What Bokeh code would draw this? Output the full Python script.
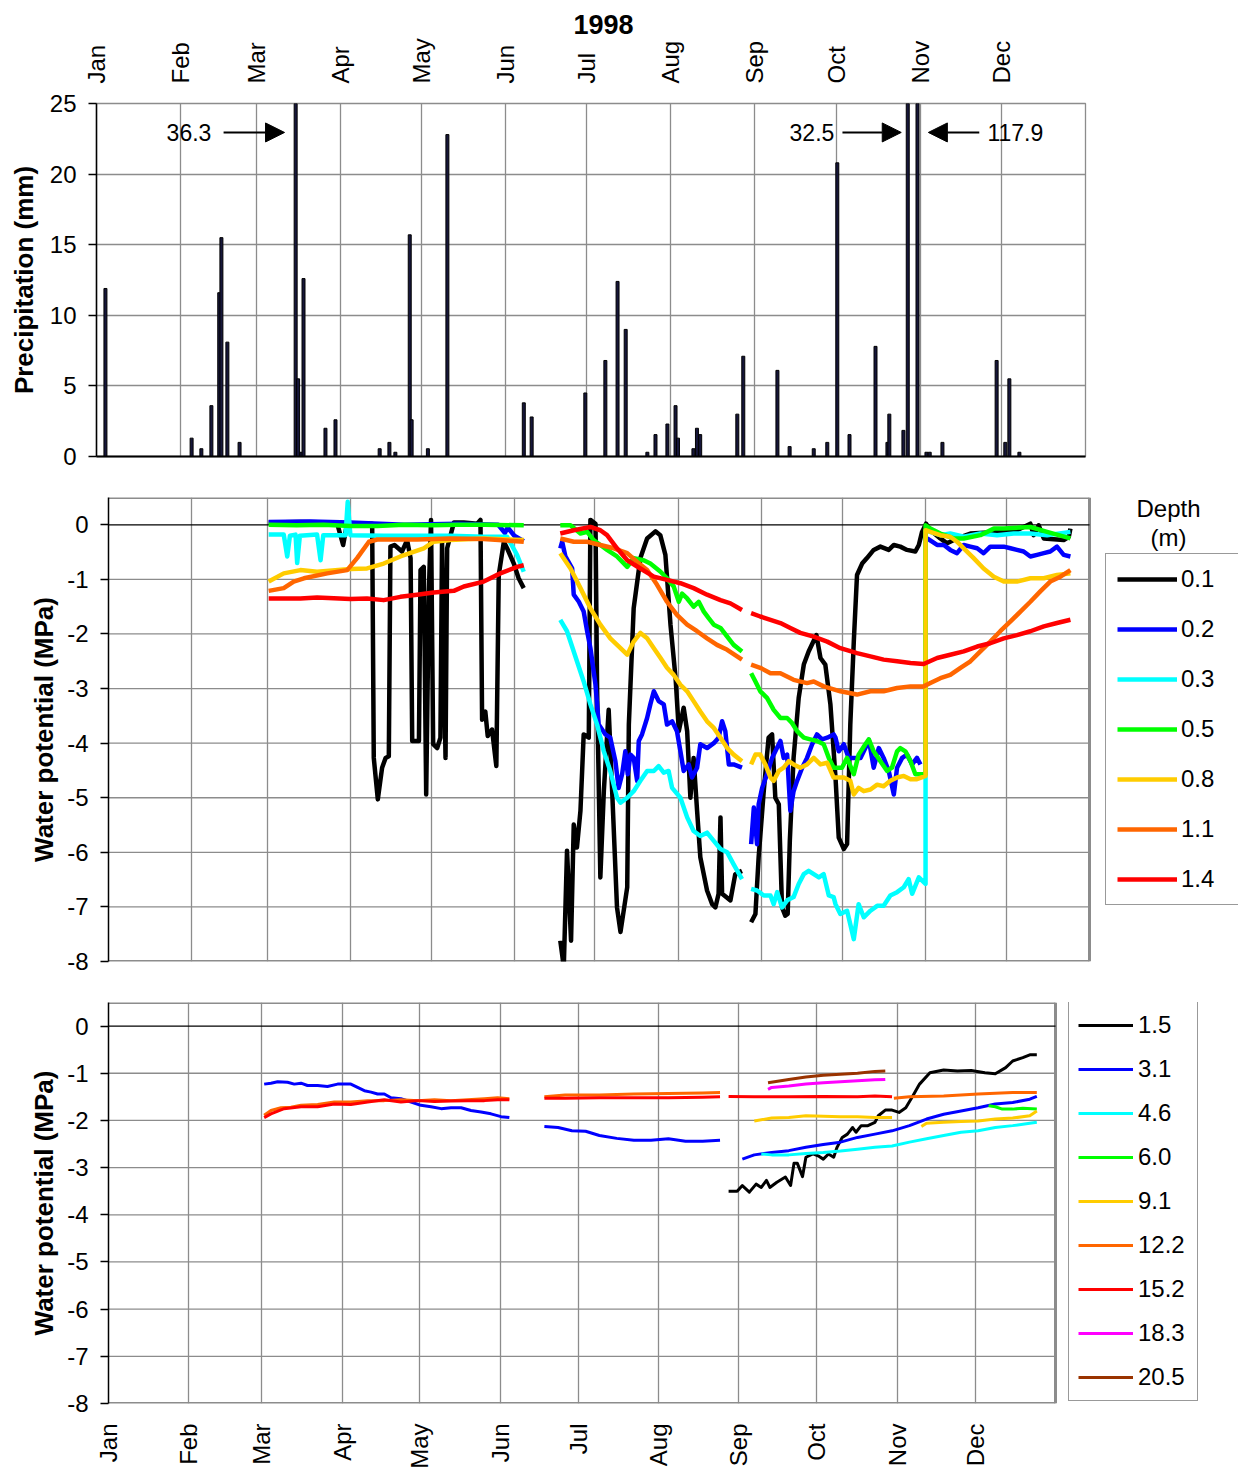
import numpy as np
from bokeh.plotting import figure
from bokeh.layouts import column, row
from bokeh.models import (Range1d, FixedTicker, LinearAxis, Label, Arrow,
                          NormalHead, ColumnDataSource, Legend, LegendItem)
from bokeh.embed import file_html
from bokeh.resources import INLINE

FONT = "Liberation Sans"

# ---------------- axis categories ----------------
month_starts = [0, 31, 59, 90, 120, 151, 181, 212, 243, 273, 304, 334]
month_labels = ["Jan", "Feb", "Mar", "Apr", "May", "Jun",
                "Jul", "Aug", "Sep", "Oct", "Nov", "Dec"]
precip_ticks = [0, 5, 10, 15, 20, 25]
wp_ticks = [0, -1, -2, -3, -4, -5, -6, -7, -8]
YEAR_DAYS = 365

# ---------------- precipitation (day of year, mm) ----------------
precip_day = [3.3, 35.1, 38.7, 42.4, 45.3, 46.1, 48.3, 52.8, 73.5, 74.4, 75.6, 76.4,
              84.5, 88.2, 104.5, 108.1, 110.3, 115.6, 116.3, 122.3, 129.5, 157.7,
              160.6, 180.4, 187.8, 192.3, 195.3, 203.3, 206.3, 210.7, 213.7, 214.6,
              220.3, 221.6, 222.8, 236.5, 238.7, 251.3, 255.8, 264.7, 269.7, 273.4,
              277.9, 287.5, 291.9, 292.6, 297.8, 299.4, 303.0, 306.3, 307.5, 312.2,
              332.2, 335.4, 336.9, 340.6]
precip_mm = [11.9, 1.3, 0.55, 3.6, 11.6, 15.5, 8.1, 1.0, 36.3, 5.5, 0.3, 12.6,
             2.0, 2.6, 0.55, 1.0, 0.3, 15.7, 2.6, 0.55, 22.8, 3.8,
             2.8, 4.5, 6.8, 12.4, 9.0, 0.3, 1.55, 2.3, 3.6, 1.3,
             0.55, 2.0, 1.55, 3.0, 7.1, 6.1, 0.7, 0.55, 1.0, 20.8,
             1.55, 7.8, 1.0, 3.0, 1.85, 32.5, 117.9, 0.3, 0.3, 1.0,
             6.8, 1.0, 5.5, 0.3]

# ---------------- shallow water potential (MPa); None = gap ----------------
wp01_day = [59.6, 71.4, 85.0, 87.3, 88.8, 98.1, 98.7, 100.2, 101.8, 103.1, 104.3, 104.9, 106.4,
            109.2, 111.1, 112.4, 113.0, 114.8, 115.5, 116.1, 117.3, 118.2, 119.2, 120.0, 120.8,
            122.3, 123.5, 124.1, 125.4, 126.0, 128.5, 132.2, 137.2, 138.4, 139.0, 140.2, 141.1,
            142.7, 144.3, 145.2, 147.1, 148.3, 150.8, 152.6, 154.5, None,
            168.1, 169.4, 170.6, 172.1, 173.1, 174.3, 175.6, 176.8, 178.7, 179.3, 181.2, 181.8,
            183.0, 184.3, 186.1, 187.4, 189.2, 190.5, 193.0, 193.6, 195.4, 197.9, 200.4, 203.5,
            205.3, 207.2, 209.1, 211.0, 212.2, 214.0, 215.3, 216.5, 217.7, 219.0, 220.2, 222.7,
            224.6, 225.8, 227.0, 227.7, 228.3, 231.4, 233.2, 235.7, None,
            239.1, 240.7, 241.9, 243.8, 245.6, 246.9, 248.1, 249.4, 250.6, 251.8, 252.7, 253.5,
            254.9, 256.8, 258.7, 260.5, 263.4, 264.9, 266.7, 268.6, 270.5, 271.7, 273.6, 274.8,
            276.0, 277.3, 278.5, 280.4, 282.2, 284.7, 287.2, 290.3, 292.2, 294.6, 297.1, 300.2,
            301.5, 302.7, 304.2, 305.8, 309.5, 312.0, 315.7, 320.7, 330.6, 338.0, 343.0, 344.2,
            346.1, 348.0, 355.4, 357.3, 357.9]
wp01_val = [0.04, 0.05, 0.04, -0.37, 0.03, 0.02, -4.27, -5.03, -4.45, -4.27, -4.24, -0.40, -0.37,
            -0.49, -0.28, -0.61, -3.96, -3.96, -3.96, -0.83, -0.77, -4.94, -1.22, 0.09, -4.02,
            -4.09, -3.90, -0.31, -4.27, -0.43, 0.04, 0.04, 0.02, 0.09, -3.57, -3.42, -3.87,
            -3.75, -4.42, -0.92, -0.31, -0.43, -0.71, -0.98, -1.16, None,
            -7.62, -8.1, -5.97, -7.62, -5.49, -5.91, -5.24, -3.84, -3.90, 0.09, 0.02, -3.05,
            -6.46, -4.88, -3.39, -4.88, -7.01, -7.46, -6.64, -3.66, -1.53, -0.61, -0.25, -0.12,
            -0.19, -0.55, -1.83, -2.81, -3.78, -3.35, -3.78, -5.00, -4.27, -5.24, -6.09, -6.70,
            -6.95, -7.01, -6.76, -5.36, -6.76, -6.88, -6.40, -6.34, None,
            -7.28, -7.13, -6.09, -4.88, -3.90, -3.84, -5.00, -5.12, -7.01, -7.16, -7.13, -5.79,
            -4.27, -3.17, -2.56, -2.32, -2.02, -2.44, -2.56, -3.29, -4.63, -5.73, -5.94, -5.85,
            -3.66, -2.14, -0.92, -0.71, -0.61, -0.46, -0.40, -0.46, -0.37, -0.40, -0.46, -0.49,
            -0.37, -0.13, 0.02, -0.10, -0.25, -0.34, -0.25, -0.16, -0.13, -0.10, 0.02, -0.19,
            -0.01, -0.25, -0.28, -0.22, -0.07]

wp02_day = [59.6, 75.0, 90.0, 110.0, 130.0, 145.0, 147.5, 148.5, 151.0, 154.5, None,
            168.1, 168.8, 170.0, 172.5, 173.1, 175.0, 176.8, 178.1, 179.3, 181.2, 182.4, 184.9,
            186.7, 188.6, 189.8, 191.1, 192.3, 193.2, 194.2, 195.4, 196.7, 197.3, 198.5, 200.4,
            201.6, 202.9, 204.7, 206.6, 207.8, 209.7, 211.5, 212.8, 214.0, 215.9, 217.1, 219.0,
            220.2, 222.7, 225.2, 227.0, 228.3, 229.5, 230.8, 232.6, 235.7, None,
            239.1, 240.1, 241.3, 241.9, 243.2, 245.0, 246.9, 248.7, 250.0, 251.2, 252.5, 253.7,
            254.9, 256.2, 258.1, 259.9, 261.8, 263.6, 265.5, 267.4, 269.8, 270.5, 271.7, 273.6,
            275.4, 279.8, 281.6, 282.9, 284.7, 286.6, 288.4, 290.3, 292.2, 293.4, 295.3, 297.1,
            299.0, 300.8, 302.1, None, 304.6, 308.3, 310.8, 313.2, 315.7, 318.2, 320.7, 323.2,
            325.6, 328.1, 333.1, 335.6, 338.0, 340.5, 343.0, 345.5, 348.0, 350.4, 352.9, 355.4,
            357.9]
wp02_val = [0.05, 0.06, 0.04, 0.0, 0.02, 0.0, -0.15, -0.05, -0.2, -0.3, None,
            -0.43, -0.31, -0.58, -0.80, -1.28, -1.41, -1.59, -1.95, -2.26, -2.93, -3.66, -3.84,
            -3.90, -4.33, -4.82, -4.57, -4.15, -4.57, -4.21, -4.27, -4.69, -3.96, -3.84, -3.54,
            -3.29, -3.05, -3.23, -3.29, -3.66, -3.60, -3.78, -4.15, -4.51, -4.39, -4.63, -4.45,
            -4.02, -4.09, -4.00, -3.90, -3.60, -3.78, -4.39, -4.39, -4.45, None,
            -5.85, -5.18, -5.85, -5.12, -4.82, -4.57, -4.27, -4.09, -3.96, -4.27, -4.21, -5.24,
            -4.88, -4.69, -4.45, -4.27, -4.02, -3.84, -3.93, -3.90, -3.84, -3.90, -4.15, -4.02,
            -4.27, -4.27, -4.09, -3.94, -4.45, -4.09, -4.27, -4.51, -4.94, -4.45, -4.27, -4.21,
            -4.39, -4.27, -4.39, None, -0.25, -0.37, -0.37, -0.46, -0.52, -0.37, -0.40, -0.43,
            -0.52, -0.40, -0.40, -0.43, -0.46, -0.49, -0.58, -0.55, -0.52, -0.49, -0.40, -0.55,
            -0.58]

wp03_day = [59.6, 65.2, 66.5, 67.5, 69.6, 70.2, 71.2, 77.6, 78.9, 79.9, 88.2, 89.0, 90.0,
            102.4, 114.8, 127.2, 139.6, 148.3, 152.0, 154.5, None,
            168.1, 170.6, 173.1, 176.8, 179.3, 181.8, 184.3, 186.7, 189.2, 190.5, 193.0, 195.4,
            197.9, 200.4, 202.9, 204.7, 206.6, 208.4, 209.7, 212.8, 215.3, 217.7, 220.2, 222.7,
            225.2, 227.7, 230.2, 232.6, 235.7, None,
            239.1, 241.3, 243.8, 246.3, 247.5, 248.8, 250.6, 252.5, 254.9, 256.8, 258.7, 260.5,
            262.4, 264.3, 266.1, 268.0, 269.8, 270.5, 272.3, 274.8, 277.3, 279.1, 281.0, 283.5,
            286.0, 288.4, 290.9, 293.4, 295.9, 297.7, 299.0, 301.5, 304.0, 304.0, 309.5, 313.2,
            318.2, 324.4, 330.6, 336.8, 343.0, 349.2, 357.9]
wp03_val = [-0.18, -0.18, -0.58, -0.20, -0.18, -0.70, -0.20, -0.18, -0.65, -0.19, -0.19, 0.42,
            -0.19, -0.20, -0.20, -0.20, -0.22, -0.22, -0.55, -0.86, None,
            -1.74, -1.95, -2.32, -2.87, -3.29, -3.66, -4.15, -4.51, -5.00, -5.09, -5.00, -4.88,
            -4.69, -4.51, -4.51, -4.42, -4.54, -4.51, -4.82, -5.00, -5.36, -5.61, -5.70, -5.64,
            -5.79, -5.94, -6.00, -6.22, -6.49, None,
            -6.67, -6.70, -6.79, -6.79, -6.95, -6.73, -7.01, -6.88, -6.82, -6.58, -6.40, -6.34,
            -6.40, -6.46, -6.40, -6.79, -6.82, -6.95, -7.13, -7.07, -7.59, -6.95, -7.19, -7.07,
            -6.98, -6.98, -6.79, -6.73, -6.64, -6.49, -6.76, -6.46, -6.58, -0.10, -0.19, -0.16,
            -0.22, -0.16, -0.19, -0.16, -0.16, -0.19, -0.13]

wp05_day = [59.6, 70.0, 80.0, 90.0, 100.0, 110.0, 120.0, 130.0, 140.0, 154.5, None,
            168.1, 171.9, 175.6, 178.1, 180.5, 183.0, 185.5, 189.2, 193.0, 195.4, 199.1, 201.6,
            205.4, 207.8, 210.3, 212.2, 213.4, 215.3, 217.7, 219.6, 221.5, 223.3, 225.2, 227.7,
            230.2, 232.6, 235.7, None,
            239.1, 240.7, 242.5, 245.0, 247.5, 250.0, 252.5, 254.3, 256.2, 258.7, 261.1, 263.6,
            266.1, 268.0, 269.8, 271.1, 272.9, 274.8, 277.3, 279.1, 281.6, 282.9, 284.7, 287.2,
            289.7, 291.5, 293.4, 294.6, 296.5, 298.4, 300.2, 304.0, 304.0, 305.8, 309.5, 314.5,
            318.2, 324.4, 329.4, 333.1, 343.0, 349.2, 357.9]
wp05_val = [0.0, -0.01, 0.0, -0.02, -0.02, 0.0, -0.01, 0.0, 0.0, -0.01, None,
            -0.01, -0.01, -0.16, -0.13, -0.28, -0.37, -0.46, -0.58, -0.77, -0.61, -0.65, -0.71,
            -0.86, -0.98, -1.13, -1.41, -1.26, -1.35, -1.50, -1.41, -1.59, -1.71, -1.83, -1.89,
            -2.05, -2.20, -2.32, None,
            -2.72, -2.87, -3.05, -3.17, -3.39, -3.54, -3.54, -3.63, -3.78, -3.90, -3.93, -3.96,
            -4.02, -4.27, -4.45, -4.45, -4.45, -4.27, -4.57, -4.21, -4.02, -3.93, -4.15, -4.33,
            -4.51, -4.45, -4.15, -4.09, -4.15, -4.33, -4.57, -4.57, -0.01, -0.07, -0.16, -0.25,
            -0.25, -0.19, -0.07, -0.07, -0.04, -0.13, -0.25]

wp08_day = [59.6, 65.2, 71.4, 77.6, 90.0, 96.2, 102.4, 108.6, 117.3, 121.0, 127.2, 139.6,
            154.5, None,
            168.1, 171.9, 175.6, 179.3, 183.0, 186.7, 190.5, 193.0, 195.4, 197.9, 200.4, 202.9,
            205.4, 207.8, 210.3, 212.8, 215.3, 217.7, 220.2, 222.7, 225.2, 227.7, 230.2, 232.6,
            235.7, None,
            239.1, 240.7, 242.5, 244.4, 246.3, 247.5, 249.4, 251.2, 253.1, 254.9, 257.4, 259.9,
            262.4, 264.9, 267.4, 269.8, 271.1, 273.6, 276.0, 277.3, 279.1, 281.0, 283.5, 286.0,
            288.4, 290.9, 293.4, 295.9, 298.4, 300.8, 304.0, 304.0, 305.8, 309.5, 313.2, 315.7,
            318.2, 321.9, 325.6, 329.4, 333.1, 338.0, 343.0, 348.0, 352.9, 357.9]
wp08_val = [-1.04, -0.89, -0.83, -0.86, -0.81, -0.80, -0.71, -0.58, -0.43, -0.31, -0.28, -0.25,
            -0.28, None,
            -0.52, -0.80, -1.16, -1.53, -1.83, -2.08, -2.26, -2.38, -2.14, -1.98, -2.08, -2.26,
            -2.44, -2.62, -2.75, -2.93, -3.05, -3.23, -3.42, -3.60, -3.72, -3.90, -4.09, -4.21,
            -4.33, None,
            -4.39, -4.21, -4.21, -4.39, -4.63, -4.69, -4.51, -4.45, -4.33, -4.39, -4.45, -4.39,
            -4.27, -4.39, -4.36, -4.63, -4.63, -4.63, -4.69, -4.94, -4.82, -4.88, -4.85, -4.76,
            -4.79, -4.69, -4.63, -4.60, -4.66, -4.66, -4.60, -0.10, -0.13, -0.19, -0.22, -0.31,
            -0.43, -0.61, -0.80, -0.95, -1.04, -1.04, -0.98, -0.98, -0.92, -0.89]

wp11_day = [59.6, 65.2, 68.9, 72.7, 81.4, 88.8, 92.5, 96.9, 100.0, 114.8, 127.2, 139.6, 154.5,
            None,
            168.1, 173.1, 178.1, 183.0, 188.0, 193.0, 196.7, 200.4, 204.1, 207.8, 211.5, 215.3,
            219.0, 222.7, 226.4, 230.2, 235.7, None,
            239.1, 242.5, 246.3, 250.0, 254.9, 259.9, 262.4, 266.1, 272.3, 278.5, 283.5, 288.4,
            293.4, 298.4, 303.3, 305.8, 309.5, 313.2, 317.0, 320.7, 324.4, 328.1, 331.8, 335.6,
            339.3, 343.0, 346.7, 350.4, 354.2, 357.9]
wp11_val = [-1.21, -1.16, -1.04, -0.98, -0.89, -0.83, -0.61, -0.31, -0.27, -0.27, -0.25, -0.26,
            -0.31, None,
            -0.25, -0.31, -0.31, -0.37, -0.43, -0.52, -0.68, -0.83, -1.10, -1.41, -1.65, -1.83,
            -1.95, -2.08, -2.20, -2.29, -2.47, None,
            -2.56, -2.62, -2.72, -2.72, -2.84, -2.90, -2.87, -2.96, -3.05, -3.11, -3.05, -3.05,
            -2.99, -2.96, -2.96, -2.90, -2.81, -2.75, -2.62, -2.50, -2.32, -2.14, -1.95, -1.77,
            -1.59, -1.41, -1.22, -1.04, -0.95, -0.83]

wp14_day = [59.6, 71.4, 77.6, 90.0, 96.2, 102.4, 108.6, 114.8, 121.0, 128.5, 132.2, 139.6,
            145.8, 152.0, 154.5, None,
            168.1, 173.1, 179.3, 183.0, 185.5, 189.2, 193.0, 197.9, 202.9, 207.8, 212.8, 217.7,
            222.7, 227.7, 231.4, 235.7, None,
            239.1, 242.5, 246.3, 250.0, 253.7, 257.4, 262.4, 267.4, 272.3, 278.5, 283.5, 288.4,
            293.4, 298.4, 303.3, 308.3, 313.2, 318.2, 323.2, 328.1, 333.1, 338.0, 343.0, 348.0,
            352.9, 357.9]
wp14_val = [-1.35, -1.35, -1.33, -1.36, -1.35, -1.38, -1.32, -1.28, -1.24, -1.21, -1.13, -1.04,
            -0.89, -0.77, -0.74, None,
            -0.16, -0.10, -0.04, -0.10, -0.19, -0.43, -0.65, -0.80, -0.95, -1.01, -1.07, -1.16,
            -1.28, -1.38, -1.44, -1.56, None,
            -1.62, -1.68, -1.74, -1.80, -1.89, -1.98, -2.05, -2.14, -2.26, -2.35, -2.41, -2.47,
            -2.50, -2.53, -2.55, -2.44, -2.38, -2.32, -2.23, -2.17, -2.08, -2.02, -1.95, -1.86,
            -1.80, -1.74]

# ---------------- deep water potential (MPa); None = gap ----------------
d15_day = [239.0, 242.3, 244.3, 247.0, 249.6, 251.6, 253.6, 254.9, 257.6, 260.9, 262.9, 264.2,
           265.5, 267.5, 268.8, 271.5, 273.5, 275.5, 277.5, 279.5, 280.8, 282.8, 284.8, 286.8,
           288.1, 290.1, 292.7, 295.4, 296.7, 299.4, 302.0, 304.7, 307.3, 310.0, 312.6, 316.6,
           321.9, 327.2, 332.5, 337.8, 341.8, 345.8, 348.5, 352.4, 355.1, 357.8]
d15_val = [-3.50, -3.50, -3.38, -3.52, -3.35, -3.42, -3.27, -3.42, -3.31, -3.20, -3.38, -2.91,
           -2.91, -3.19, -2.78, -2.71, -2.75, -2.82, -2.71, -2.78, -2.57, -2.36, -2.29, -2.15,
           -2.25, -2.11, -2.11, -2.04, -1.90, -1.78, -1.78, -1.83, -1.73, -1.48, -1.23, -0.99,
           -0.93, -0.95, -0.94, -0.99, -1.01, -0.88, -0.74, -0.67, -0.61, -0.61]

d31_day = [60.0, 62.6, 65.2, 69.0, 71.6, 74.2, 76.7, 80.6, 84.4, 88.3, 93.4, 96.0, 98.6,
           101.2, 103.7, 106.3, 108.9, 112.7, 116.6, 120.4, 124.3, 128.2, 132.0, 135.9, 139.7,
           143.6, 147.4, 151.3, 154.5, None,
           168.0, 173.3, 178.6, 183.9, 189.2, 195.9, 202.5, 209.1, 215.8, 222.4, 229.0, 235.7,
           None,
           244.3, 248.9, 255.6, 262.2, 268.8, 275.5, 282.1, 288.7, 295.4, 302.0, 308.7, 315.3,
           321.9, 328.6, 335.2, 341.8, 348.5, 355.1, 357.8]
d31_val = [-1.23, -1.21, -1.18, -1.19, -1.23, -1.21, -1.26, -1.26, -1.28, -1.23, -1.23, -1.30,
           -1.37, -1.40, -1.44, -1.44, -1.52, -1.54, -1.61, -1.68, -1.71, -1.75, -1.73, -1.73,
           -1.79, -1.82, -1.86, -1.92, -1.94, None,
           -2.13, -2.15, -2.22, -2.23, -2.32, -2.38, -2.42, -2.42, -2.39, -2.44, -2.44, -2.42,
           None,
           -2.82, -2.73, -2.68, -2.64, -2.57, -2.51, -2.46, -2.36, -2.29, -2.22, -2.11, -1.97,
           -1.87, -1.80, -1.73, -1.65, -1.62, -1.55, -1.49]

d46_day = [251.6, 255.6, 262.2, 268.8, 275.5, 282.1, 288.7, 295.4, 302.0, 308.7, 315.3, 321.9,
           328.6, 335.2, 341.8, 348.5, 355.1, 357.8]
d46_val = [-2.71, -2.73, -2.73, -2.70, -2.68, -2.65, -2.61, -2.57, -2.54, -2.46, -2.39, -2.32,
           -2.25, -2.22, -2.15, -2.11, -2.06, -2.04]

d60_day = [339.2, 341.8, 344.5, 348.5, 352.4, 357.8]
d60_val = [-1.69, -1.71, -1.76, -1.76, -1.74, -1.76]

d91_day = [248.9, 255.6, 262.2, 268.8, 275.5, 282.1, 288.7, 295.4, 302.0, None,
           313.3, 315.3, 321.9, 328.6, 335.2, 341.8, 348.5, 355.1, 357.8]
d91_val = [-2.01, -1.95, -1.94, -1.90, -1.91, -1.92, -1.92, -1.94, -1.94, None,
           -2.13, -2.06, -2.04, -2.02, -2.01, -1.97, -1.95, -1.90, -1.80]

d122_day = [60.0, 62.6, 66.5, 70.3, 74.2, 80.6, 87.0, 93.4, 99.9, 106.3, 112.7, 119.2, 125.6,
            132.0, 138.4, 144.9, 150.0, 154.5, None,
            168.0, 176.0, 189.2, 202.5, 215.8, 229.0, 235.7, None,
            302.7, 308.7, 321.9, 335.2, 348.5, 357.8]
d122_val = [-1.89, -1.79, -1.73, -1.72, -1.68, -1.66, -1.61, -1.61, -1.58, -1.58, -1.56, -1.58,
            -1.56, -1.58, -1.56, -1.54, -1.52, -1.54, None,
            -1.50, -1.46, -1.46, -1.44, -1.43, -1.42, -1.41, None,
            -1.53, -1.50, -1.48, -1.44, -1.41, -1.41]

d152_day = [60.0, 62.6, 67.7, 74.2, 80.6, 87.0, 93.4, 99.9, 106.3, 112.7, 119.2, 125.6, 132.0,
            138.4, 144.9, 150.0, 154.5, None,
            168.0, 176.0, 189.2, 202.5, 215.8, 229.0, 235.7, None,
            239.0, 248.9, 262.2, 275.5, 288.7, 295.4, 302.0]
d152_val = [-1.94, -1.86, -1.75, -1.71, -1.71, -1.65, -1.66, -1.61, -1.56, -1.61, -1.58, -1.60,
            -1.59, -1.58, -1.58, -1.56, -1.56, None,
            -1.53, -1.53, -1.52, -1.52, -1.52, -1.51, -1.50, None,
            -1.49, -1.50, -1.50, -1.49, -1.50, -1.48, -1.50]

d183_day = [254.2, 255.6, 262.2, 268.8, 275.5, 282.1, 288.7, 295.4, 299.4]
d183_val = [-1.34, -1.30, -1.27, -1.23, -1.20, -1.18, -1.16, -1.14, -1.13]

d205_day = [254.2, 262.2, 268.8, 275.5, 282.1, 288.7, 295.4, 299.4]
d205_val = [-1.20, -1.13, -1.08, -1.04, -1.02, -1.00, -0.96, -0.95]

shallow_series = [("0.1", wp01_day, wp01_val, "#000000"),
                  ("0.2", wp02_day, wp02_val, "#0000FF"),
                  ("0.3", wp03_day, wp03_val, "#00FFFF"),
                  ("0.5", wp05_day, wp05_val, "#00FF00"),
                  ("0.8", wp08_day, wp08_val, "#FFCC00"),
                  ("1.1", wp11_day, wp11_val, "#FF6600"),
                  ("1.4", wp14_day, wp14_val, "#FF0000")]
deep_series = [("1.5", d15_day, d15_val, "#000000"),
               ("3.1", d31_day, d31_val, "#0000FF"),
               ("4.6", d46_day, d46_val, "#00FFFF"),
               ("6.0", d60_day, d60_val, "#00FF00"),
               ("9.1", d91_day, d91_val, "#FFCC00"),
               ("12.2", d122_day, d122_val, "#FF6600"),
               ("15.2", d152_day, d152_val, "#FF0000"),
               ("18.3", d183_day, d183_val, "#FF00FF"),
               ("20.5", d205_day, d205_val, "#993300")]


def arr(lst):
    return np.array([np.nan if v is None else v for v in lst], dtype=float)


GRID = "#8c8c8c"
INK = "#000000"


def style_y(p, ticks, label, standoff, overrides=None):
    ax = p.yaxis[0]
    ax.ticker = FixedTicker(ticks=ticks)
    if overrides:
        ax.major_label_overrides = overrides
    ax.axis_label = label
    ax.axis_label_text_font = FONT
    ax.axis_label_text_font_style = "bold"
    ax.axis_label_text_font_size = "26px"
    ax.axis_label_text_color = INK
    ax.axis_label_standoff = standoff
    ax.major_label_text_font = FONT
    ax.major_label_text_font_size = "24px"
    ax.major_label_text_color = INK
    ax.major_label_standoff = 12
    ax.major_tick_out = 8
    ax.major_tick_in = 0
    ax.minor_tick_line_color = None
    ax.axis_line_color = INK
    ax.axis_line_width = 1.5
    ax.major_tick_line_color = INK
    ax.major_tick_line_width = 1.5


def style_month_axis(ax):
    ax.ticker = FixedTicker(ticks=month_starts)
    ax.major_label_overrides = {m: lab for m, lab in zip(month_starts, month_labels)}
    ax.major_label_orientation = np.pi / 2
    ax.major_label_text_font = FONT
    ax.major_label_text_font_size = "24px"
    ax.major_label_text_color = INK
    ax.major_label_standoff = 14
    ax.major_tick_line_color = None
    ax.minor_tick_line_color = None
    ax.axis_line_color = None


def wp_panel(frame_w, frame_h, data_w, top, bottom, series, lw):
    """Water-potential panel whose frame extends to the page edge so the legend fits inside."""
    x_end = YEAR_DAYS * frame_w / data_w
    p = figure(frame_width=frame_w, frame_height=frame_h, x_range=Range1d(0, x_end),
               y_range=Range1d(-8, 0.5), output_backend="svg", toolbar_location=None,
               min_border_left=108, min_border_right=0, min_border_top=top,
               min_border_bottom=bottom)
    p.outline_line_color = None
    p.ygrid.visible = False
    p.xgrid.ticker = FixedTicker(ticks=month_starts)
    p.xgrid.grid_line_color = GRID
    p.xgrid.grid_line_width = 1.3
    style_y(p, wp_ticks, "Water potential (MPa)", 5, {t: str(t) for t in wp_ticks})
    # horizontal grid lines limited to the plot area of the year
    grid_y = [t for t in wp_ticks if t not in (0, -8)]
    p.segment(x0=[0] * len(grid_y), x1=[YEAR_DAYS] * len(grid_y), y0=grid_y, y1=grid_y,
              line_color=GRID, line_width=1.3)
    # plot-area border (top, bottom, right)
    p.segment(x0=[0, 0, YEAR_DAYS], x1=[YEAR_DAYS, YEAR_DAYS, YEAR_DAYS],
              y0=[0.5, -8, -8], y1=[0.5, -8, 0.5], line_color=GRID, line_width=3)
    # zero line
    p.segment(x0=[0], x1=[YEAR_DAYS], y0=[0], y1=[0], line_color=INK, line_width=1.2)
    items = []
    for lab, dd, vv, col in series:
        src = ColumnDataSource(dict(x=arr(dd), y=arr(vv)))
        r = p.line("x", "y", source=src, line_color=col, line_width=lw, line_join="round")
        items.append(LegendItem(label=lab, renderers=[r]))
    return p, items


def make_legend(items, loc, pad, spacing, glyph_w, label_w, standoff):
    return Legend(items=items, location=loc, margin=0, padding=pad, spacing=spacing,
                  glyph_width=glyph_w, glyph_height=28, label_height=28, label_width=label_w,
                  label_standoff=standoff, label_text_font=FONT, label_text_font_size="24px",
                  label_text_color=INK, border_line_color="#333333", border_line_width=1,
                  background_fill_alpha=1.0)


# ================= panel 1: precipitation =================
p1 = figure(frame_width=989, frame_height=353, x_range=Range1d(0, 365), y_range=Range1d(0, 25),
            x_axis_location="above", output_backend="svg", toolbar_location=None,
            title="1998",
            min_border_left=96, min_border_right=153, min_border_top=103, min_border_bottom=20)
p1.title.align = "left"
p1.title.offset = 477
p1.title.text_font = FONT
p1.title.text_font_style = "bold"
p1.title.text_font_size = "27px"
p1.title.text_color = INK
p1.title.standoff = 4
p1.outline_line_color = GRID
p1.outline_line_width = 1.3
style_month_axis(p1.xaxis[0])
p1.xgrid.ticker = FixedTicker(ticks=month_starts)
p1.xgrid.grid_line_color = GRID
p1.xgrid.grid_line_width = 1.3
style_y(p1, precip_ticks, "Precipitation (mm)", 8)
p1.ygrid.ticker = FixedTicker(ticks=precip_ticks)
p1.ygrid.grid_line_color = GRID
p1.ygrid.grid_line_width = 1.3
bottom_ax = LinearAxis(ticker=FixedTicker(ticks=[]), axis_line_color=INK, axis_line_width=2,
                       major_tick_line_color=None, minor_tick_line_color=None,
                       major_label_text_font_size="0px")
p1.add_layout(bottom_ax, "below")

p1.vbar(x=precip_day, top=precip_mm, width=1.1, fill_color="#16163a",
        line_color=INK, line_width=1)

ann_y = 22.95
for txt, tx, align, xs, xe in [("36.3", 42.4, "right", 46.9, 69.4),
                               ("32.5", 272.3, "right", 275.3, 297.0),
                               ("117.9", 328.8, "left", 325.8, 307.0)]:
    p1.add_layout(Label(x=tx, y=ann_y, text=txt, text_align=align, text_baseline="middle",
                        text_font=FONT, text_font_size="23px", text_color=INK))
    p1.add_layout(Arrow(x_start=xs, y_start=ann_y, x_end=xe, y_end=ann_y, line_width=2,
                        line_color=INK,
                        end=NormalHead(size=19, fill_color=INK, line_color=INK)))

# ================= panel 2: shallow depths =================
p2, items2 = wp_panel(1130, 464, 981, 21, 24, shallow_series, 4.5)
p2.xaxis.visible = False
p2.add_layout(make_legend(items2, (997, 56), 11, 22, 60, 60, 4))
p2.add_layout(Label(x=394.4, y=0.29, text="Depth", text_align="center", text_baseline="middle",
                    text_font=FONT, text_font_size="24px", text_color=INK))
p2.add_layout(Label(x=394.4, y=-0.24, text="(m)", text_align="center", text_baseline="middle",
                    text_font=FONT, text_font_size="24px", text_color=INK))

# ================= panel 3: deep depths =================
p3, items3 = wp_panel(1130, 401, 947, 17, 66, deep_series, 3)
style_month_axis(p3.xaxis[0])
p3.add_layout(make_legend(items3, (960, 2), 9, 16, 55, 50, 5))

layout = column(row(p1, spacing=0), row(p2, spacing=0), row(p3, spacing=0), spacing=0)
open("out.html", "w").write(file_html(layout, INLINE))
